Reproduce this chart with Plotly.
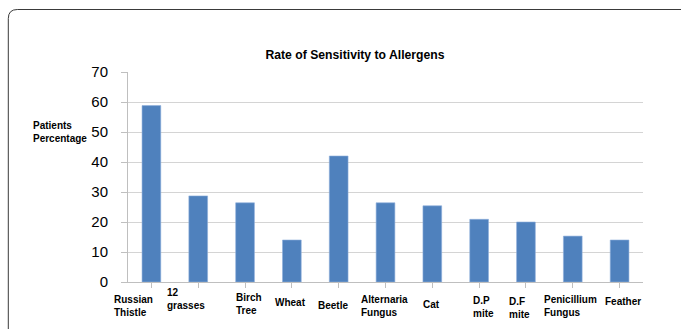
import plotly.graph_objects as go

categories = ["Russian\nThistle", "12\ngrasses", "Birch\nTree", "Wheat", "Beetle",
              "Alternaria\nFungus", "Cat", "D.P\nmite", "D.F\nmite",
              "Penicillium\nFungus", "Feather"]
values = [58.8, 28.7, 26.4, 14.0, 42.0, 26.4, 25.4, 20.9, 20.0, 15.3, 14.0]
y_ticks = [0, 10, 20, 30, 40, 50, 60, 70]

# label layout (pixel offsets of each label's left edge and first-line top)
label_xshift = [-38, -32.5, -10, -17.6, -21.4, -25.5, -10.6, -6.8, -17.6, -30.1, -15.3]
label_top = [298.3, 291.7, 296.7, 299, 302, 298, 301, 299, 300.7, 298.3, 298.3]

W, H = 681, 329
L, R, T, B = 128, 38, 72, 47
PW, PH = W - L - R, H - T - B
FONT = "Liberation Sans, Arial, sans-serif"

xidx = list(range(len(categories)))

fig = go.Figure(go.Bar(
    x=xidx, y=values,
    marker=dict(color="#4f81bd", line=dict(color="#8eaedb", width=0.6)),
    width=0.4,
))

def px2py(py):
    return (H - B - py) / PH

def px2px(px):
    return (px - L) / PW

annotations = []
for i, lab in enumerate(categories):
    lines = lab.split("\n")
    if len(lines) == 2:
        cy = label_top[i] + 7.6
    else:
        cy = label_top[i] + 3.6
    annotations.append(dict(
        x=i, xref="x", y=0, yref="paper", xanchor="left", yanchor="middle",
        align="left",
        xshift=label_xshift[i] - 1, yshift=-(cy - (H - B)),
        text="<br>".join("<b>%s</b>" % s for s in lines), showarrow=False,
        font=dict(family=FONT, size=10, color="#000000"),
    ))

annotations.append(dict(
    x=px2px(32.3), xref="paper", y=px2py(131.6), yref="paper",
    xanchor="left", yanchor="middle", align="left",
    xshift=-1,
    text="<b>Patients</b><br><b>Percentage</b>",
    showarrow=False, font=dict(family=FONT, size=10, color="#000000"),
))

# rounded frame around the chart
x0, y0 = px2px(8.3), px2py(9.5)
x1, y1 = px2px(695), px2py(345)
rx, ry = 9 / PW, 9 / PH
frame = (f"M {x0},{y1} L {x0},{y0 - ry} Q {x0},{y0} {x0 + rx},{y0} L {x1},{y0}")

fig.update_layout(
    width=W, height=H,
    margin=dict(l=L, r=R, t=T, b=B, pad=0),
    paper_bgcolor="white", plot_bgcolor="white",
    showlegend=False,
    bargap=0.6,
    title=dict(text="<b>Rate of Sensitivity to Allergens</b>",
               x=355 / W, xanchor="center", y=1 - 54.5 / H, yanchor="middle",
               font=dict(family=FONT, size=12.2, color="#000000")),
    xaxis=dict(
        range=[-0.5, len(categories) - 0.5],
        tickmode="array", tickvals=xidx, showticklabels=False,
        tickson="boundaries", ticks="outside", ticklen=5, tickcolor="#bfbfbf",
        showline=True, linecolor="#bfbfbf", linewidth=1,
        showgrid=False, zeroline=False,
    ),
    yaxis=dict(
        range=[0, 70], tickmode="array", tickvals=y_ticks,
        ticks="outside", ticklen=6, tickcolor="#bfbfbf",
        ticklabelstandoff=10,
        tickfont=dict(family=FONT, size=15, color="#000000"),
        showline=True, linecolor="#bfbfbf", linewidth=1,
        showgrid=True, gridcolor="#d4d4d4", gridwidth=1.3,
        zeroline=False,
    ),
    annotations=annotations,
    shapes=[dict(type="path", path=frame, xref="paper", yref="paper",
                 line=dict(color="#3a3a3a", width=1))],
)

fig.write_html("out.html",
               config={"displayModeBar": False},
               post_script="document.body.style.margin='0';document.body.style.overflow='hidden';")
